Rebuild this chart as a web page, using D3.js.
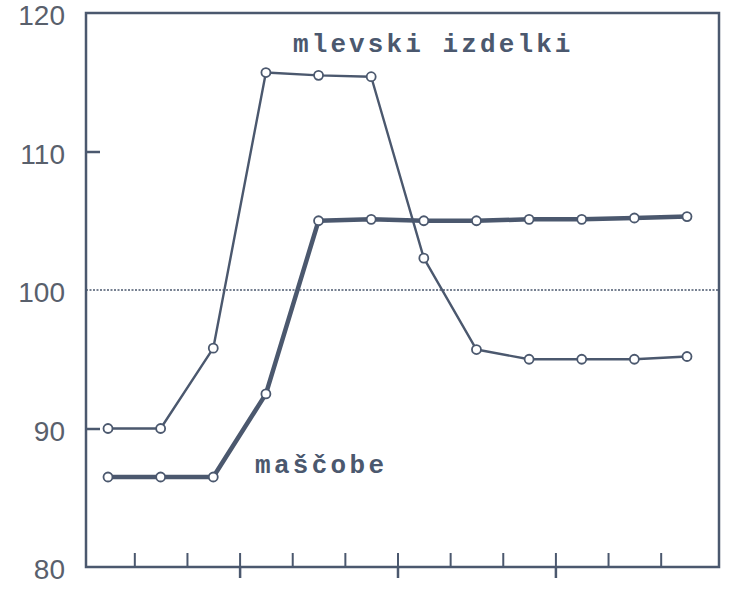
<!DOCTYPE html>
<html>
<head>
<meta charset="utf-8">
<script src="https://cdn.jsdelivr.net/npm/d3@7"></script>
<style>
  body { margin: 0; background: #fff; }
</style>
</head>
<body>
<div id="CHART"></div>
<script>
// data (index values, 12 periods)
var months = ["I", "II", "III", "IV", "V", "VI", "VII", "VIII", "IX", "X", "XI", "XII"];
var mlevski = [90.0, 90.0, 95.8, 115.7, 115.5, 115.4, 102.3, 95.7, 95.0, 95.0, 95.0, 95.2];
var mascobe = [86.5, 86.5, 86.5, 92.5, 105.0, 105.1, 105.0, 105.0, 105.1, 105.1, 105.2, 105.3];
var yTicks = [80, 90, 100, 110, 120];
var seriesNames = ["mlevski izdelki", "maščobe"];

var W = 731, H = 597;
var ink = "#4b586e", labelInk = "#59606c";

var svg = d3.select("#CHART")
  .append("svg")
    .attr("width", W)
    .attr("height", H);

// plot frame
var box = {left: 86, right: 719, top: 13, bottom: 567};

var x = d3.scaleLinear()
  .domain([0, months.length - 1])
  .range([108, 687]);

var y = d3.scaleLinear()
  .domain([80, 120])
  .range([box.bottom, box.top]);

// frame
svg.append("rect")
  .attr("x", box.left).attr("y", box.top)
  .attr("width", box.right - box.left)
  .attr("height", box.bottom - box.top)
  .attr("fill", "none")
  .attr("stroke", ink)
  .attr("stroke-width", 2.5);

// dotted 100 line
svg.append("line")
  .attr("x1", box.left).attr("x2", box.right)
  .attr("y1", y(100)).attr("y2", y(100))
  .attr("stroke", ink)
  .attr("stroke-width", 1.4)
  .attr("stroke-dasharray", "2,1.5");

// y labels
var yAxis = svg.append("g")
  .attr("transform", "translate(" + box.left + ",0)")
  .call(d3.axisLeft(y).tickValues(yTicks).tickSize(0).tickPadding(21));
yAxis.select(".domain").remove();
yAxis.selectAll("text")
  .attr("fill", labelInk)
  .attr("font-family", "Liberation Sans, Arial, sans-serif")
  .attr("font-size", 28)
  .attr("dy", "0.42em");

// inward ticks at 90 and 110
var yInner = svg.append("g")
  .attr("transform", "translate(" + box.left + ",0)")
  .call(d3.axisRight(y).tickValues([90, 110]).tickSize(14).tickFormat(""));
yInner.select(".domain").remove();
yInner.selectAll("line").attr("stroke", ink).attr("stroke-width", 2.5);

// x ticks between periods, quarter ticks cross the axis
var bounds = months.slice(1).map(function(d, i) { return i + 0.5; });
var quarters = bounds.filter(function(d, i) { return (i + 1) % 3 === 0; });

var xTop = svg.append("g")
  .attr("transform", "translate(0," + box.bottom + ")")
  .call(d3.axisTop(x).tickValues(bounds).tickSize(14).tickFormat(""));
xTop.select(".domain").remove();
xTop.selectAll("line").attr("stroke", ink).attr("stroke-width", 2);

var xBot = svg.append("g")
  .attr("transform", "translate(0," + box.bottom + ")")
  .call(d3.axisBottom(x).tickValues(quarters).tickSize(11).tickFormat(""));
xBot.select(".domain").remove();
xBot.selectAll("line").attr("stroke", ink).attr("stroke-width", 2.5);

// lines
var makeLine = d3.line()
  .x(function(d, i) { return x(i); })
  .y(function(d) { return y(d); });

var series = [
  {name: seriesNames[0], values: mlevski, width: 2.4},
  {name: seriesNames[1], values: mascobe, width: 4.5}
];

series.forEach(function(s) {
  svg.append("path")
    .attr("d", makeLine(s.values))
    .attr("fill", "none")
    .attr("stroke", ink)
    .attr("stroke-width", s.width)
    .attr("stroke-linejoin", "round");

  svg.selectAll(null)
    .data(s.values)
    .enter()
    .append("circle")
    .attr("cx", function(d, i) { return x(i); })
    .attr("cy", function(d) { return y(d); })
    .attr("r", 4.5)
    .attr("fill", "#fff")
    .attr("stroke", ink)
    .attr("stroke-width", 1.8);
});

// series labels, typewriter style
var labelFont = "Liberation Mono, Courier New, monospace";
svg.append("text")
  .attr("x", 293).attr("y", 52)
  .attr("font-family", labelFont)
  .attr("font-size", 26)
  .attr("font-weight", "bold")
  .attr("letter-spacing", 3.1)
  .attr("fill", ink)
  .text(seriesNames[0]);

svg.append("text")
  .attr("x", 255).attr("y", 473)
  .attr("font-family", labelFont)
  .attr("font-size", 26)
  .attr("font-weight", "bold")
  .attr("letter-spacing", 3.3)
  .attr("fill", ink)
  .text(seriesNames[1]);
</script>
</body>
</html>
